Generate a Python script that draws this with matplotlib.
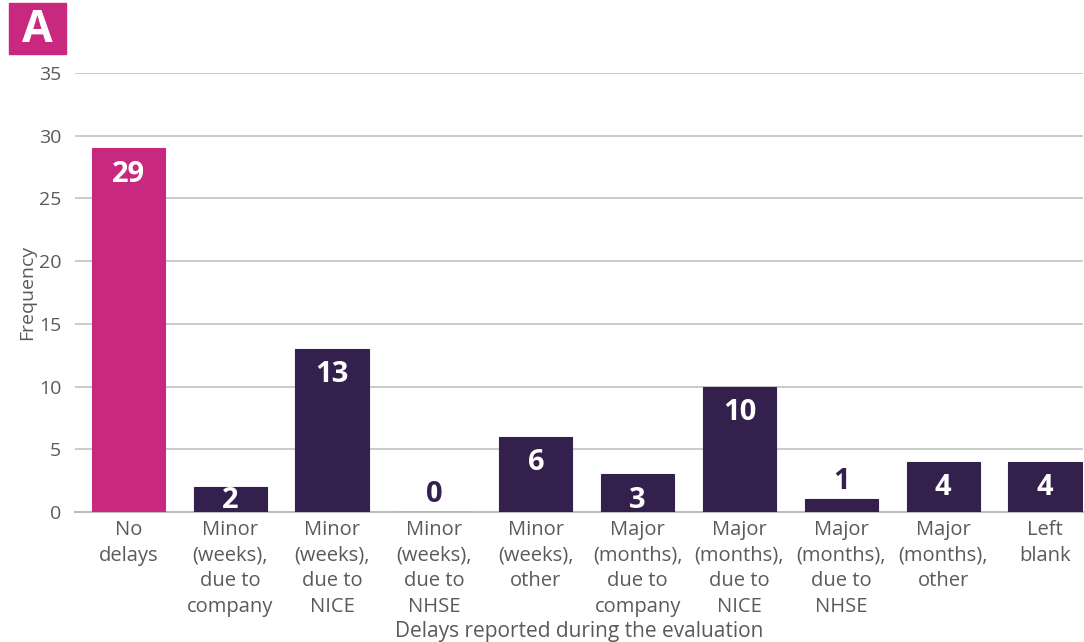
import numpy as np
import matplotlib.pyplot as plt

plt.rcParams['font.family'] = ['Open Sans', 'DejaVu Sans']

categories = ['No\ndelays', 'Minor\n(weeks),\ndue to\ncompany', 'Minor\n(weeks),\ndue to\nNICE',
              'Minor\n(weeks),\ndue to\nNHSE', 'Minor\n(weeks),\nother', 'Major\n(months),\ndue to\ncompany',
              'Major\n(months),\ndue to\nNICE', 'Major\n(months),\ndue to\nNHSE', 'Major\n(months),\nother',
              'Left\nblank']
values = [29, 2, 13, 0, 6, 3, 10, 1, 4, 4]

pink = '#C8297F'
dark = '#33204C'
grey = '#5a5a5a'
colors = [pink] + [dark] * 9
edges = [pink, dark, dark, pink, dark, dark, dark, dark, dark, dark]

fig = plt.figure(figsize=(10.84, 6.42), dpi=100)
ax = fig.add_axes([75 / 1084, 1 - 512 / 642, 1008 / 1084, 439 / 642])

x = np.arange(len(values))
ax.bar(x, values, width=0.72, color=colors, edgecolor=edges, linewidth=0.8, zorder=3)

for xi, v in zip(x, values):
    if v >= 2:
        ax.text(xi, max(v - 0.9, 2.05), str(v), ha='center', va='top', color='white',
                fontsize=21, fontweight='bold', zorder=4)
    else:
        ax.text(xi, v + 0.25, str(v), ha='center', va='bottom', color=dark,
                fontsize=21, fontweight='bold', zorder=4)

ax.set_xlim(-0.525, 9.373)
ax.set_ylim(0, 35)
ax.set_yticks(range(0, 36, 5))
ax.yaxis.grid(True, color='#c2c2c2', linewidth=1.2, zorder=0)
ax.set_axisbelow(True)
for s in ['top', 'right', 'left']:
    ax.spines[s].set_visible(False)
ax.spines['bottom'].set_color('#bdbdbd')
ax.spines['bottom'].set_linewidth(1.5)
ax.tick_params(axis='both', length=0, labelsize=14, colors=grey, pad=10)
ax.tick_params(axis='x', pad=6, labelsize=14.5)
ax.set_xticks(x)
ax.set_xticklabels(categories, linespacing=1.36)
ax.set_ylabel('Frequency', fontsize=14, color=grey, labelpad=2)
ax.set_xlabel('Delays reported during the evaluation', fontsize=15, color=grey, labelpad=3)

fig.patches.append(plt.Rectangle((9 / 1084, 1 - 54 / 642), 57 / 1084, 51 / 642,
                                 transform=fig.transFigure, color=pink, zorder=0))
fig.text(37.5 / 1084, 1 - 30 / 642, 'A', ha='center', va='center', color='white',
         fontsize=32, fontweight='bold')

fig.savefig('out.png', dpi=100)
